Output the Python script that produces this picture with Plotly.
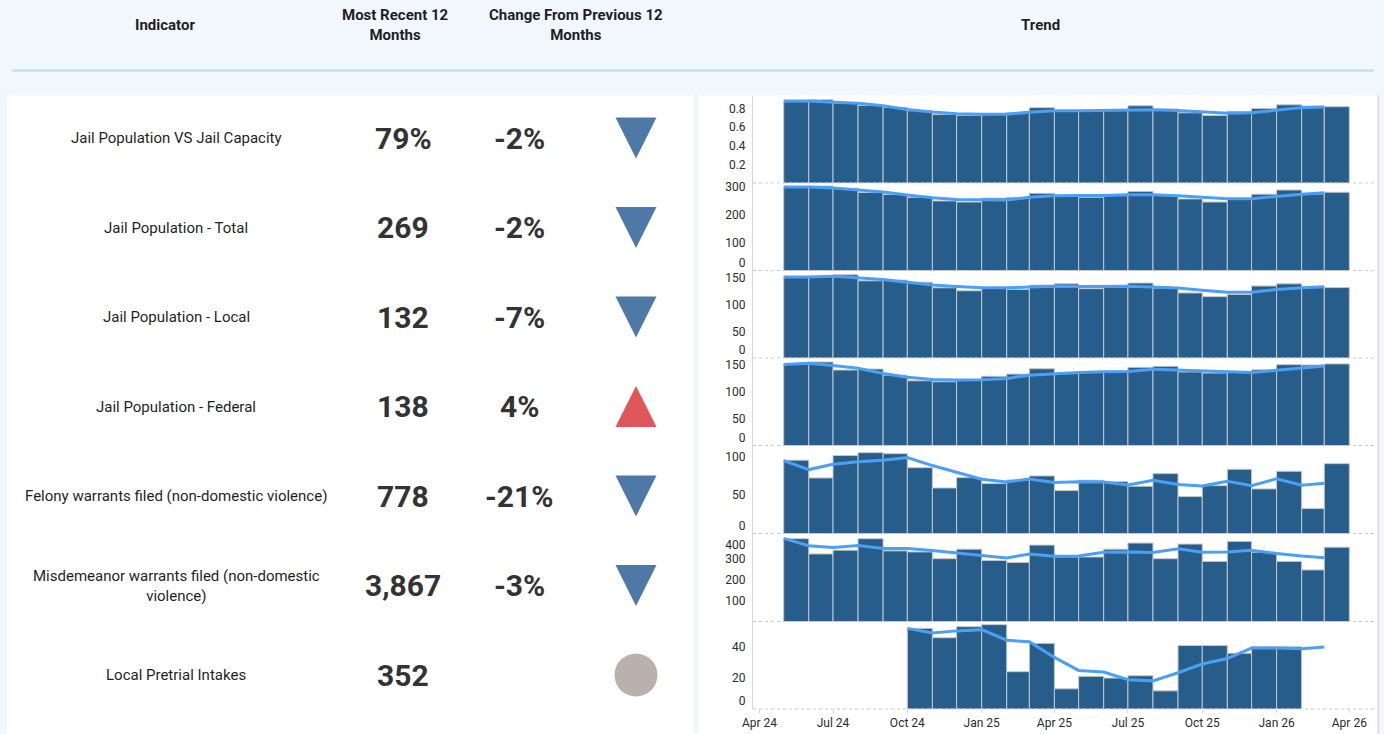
import plotly.graph_objects as go
import pandas as pd

# ---------------- data ----------------
months = ["2024-05-01", "2024-06-01", "2024-07-01", "2024-08-01", "2024-09-01", "2024-10-01",
          "2024-11-01", "2024-12-01", "2025-01-01", "2025-02-01", "2025-03-01", "2025-04-01",
          "2025-05-01", "2025-06-01", "2025-07-01", "2025-08-01", "2025-09-01", "2025-10-01",
          "2025-11-01", "2025-12-01", "2026-01-01", "2026-02-01", "2026-03-01"]

capacity_bars = [0.874, 0.895, 0.856, 0.834, 0.813, 0.777, 0.737, 0.726, 0.74, 0.755, 0.81, 0.77,
                 0.77, 0.78, 0.83, 0.795, 0.755, 0.726, 0.77, 0.80, 0.84, 0.827, 0.82]
capacity_line = [0.88, 0.88, 0.867, 0.856, 0.83, 0.79, 0.762, 0.744, 0.74, 0.74, 0.76, 0.777,
                 0.777, 0.78, 0.787, 0.787, 0.78, 0.762, 0.75, 0.755, 0.784, 0.81, 0.816]

total_bars = [298, 302, 294, 279, 272, 262, 249, 245, 259, 262, 276, 265,
              262, 268, 283, 268, 256, 245, 256, 273, 288, 274, 280]
total_line = [299, 299, 295, 289, 281, 270, 260, 254, 252, 252, 262, 267,
              268, 268, 271, 271, 267, 262, 257, 257, 266, 273, 278]

local_bars = [151.6, 151, 156, 144.7, 146, 142, 131.6, 126, 131, 128.4, 136.6, 139,
              130, 133, 140.5, 131, 122, 115, 119, 135, 139, 132, 132]
local_line = [152, 151.6, 153, 150, 147, 142, 137, 134, 131.6, 131.6, 133, 134.7,
              134, 134, 134.7, 133, 131, 127, 123.4, 123.4, 128.4, 131.6, 133.4]

federal_bars = [152, 155.6, 140.6, 142.5, 131, 120.6, 118.8, 121, 129, 133, 143, 134,
                136, 138, 145.6, 147.5, 137, 135, 137.5, 141, 150.6, 150, 152]
federal_line = [151, 153, 149, 144, 134, 127, 123, 122, 122.5, 125, 131, 134,
                136, 137.5, 138, 142, 140.6, 139, 137.5, 136, 140, 144, 148]

felony_bars = [95, 72, 101, 104.7, 103.4, 85.3, 59, 72.4, 64.7, 69.4, 74.6, 55.6,
               69, 67.2, 61.2, 77.6, 47.8, 62, 83.2, 57.8, 80.6, 32.3, 90.5]
felony_line = [94.4, 82.8, 89.7, 93, 94.8, 98.3, 88, 79.3, 70.3, 66.8, 70.7, 66,
               67.2, 66.8, 63, 69, 63.4, 61.6, 67.7, 62, 71, 62.5, 65]

misd_bars = [393.5, 321, 338.7, 393.5, 335.5, 330.6, 298.4, 343.5, 290, 280.6, 363, 306.5,
             306.5, 343.5, 372.6, 298.4, 367.7, 285.5, 380.6, 329, 285.5, 245, 353]
misd_line = [395, 360, 351.6, 361, 346.8, 346.8, 337, 324, 313, 301.6, 321, 309.7,
             311, 329, 330.6, 327.4, 345, 329, 330.6, 338.7, 322.6, 311, 303]

pretrial_bars = [None, None, None, None, None, 51.6, 45.6, 52.7, 54, 23.9, 42, 12.9,
                 20.9, 19.8, 21.3, 11.6, 40.6, 40.6, 35.7, 39.8, 39.8, None, None]
pretrial_line = [None, None, None, None, None, 51.6, 48.6, 50, 50.8, 44, 43, 33,
                 24.7, 23.7, 18.7, 18, 23.2, 28.8, 32.3, 39, 39, 38.5, 39.6]

indicators = ["Jail Population VS Jail Capacity", "Jail Population - Total", "Jail Population - Local",
              "Jail Population - Federal", "Felony warrants filed (non-domestic violence)",
              "Misdemeanor warrants filed (non-domestic<br>violence)", "Local Pretrial Intakes"]
recent_values = ["79%", "269", "132", "138", "778", "3,867", "352"]
change_values = ["-2%", "-2%", "-7%", "4%", "-21%", "-3%", ""]
directions = ["down", "down", "down", "up", "down", "down", "none"]

header_labels = ["Indicator", "Most Recent 12<br>Months", "Change From Previous 12<br>Months", "Trend"]
x_tick_dates = ["2024-04-01", "2024-07-01", "2024-10-01", "2025-01-01", "2025-04-01",
                "2025-07-01", "2025-10-01", "2026-01-01", "2026-04-01"]

# (bars, line, y range, tick values, tick labels)
series = [
    (capacity_bars, capacity_line, [0, 0.935], [0.2, 0.4, 0.6, 0.8], ["0.2", "0.4", "0.6", "0.8"]),
    (total_bars, total_line, [0, 313], [0, 100, 200, 300], ["0<br> ", "100", "200", "300"]),
    (local_bars, local_line, [0, 164], [0, 50, 100, 150], ["0<br> ", "50", "100", "150"]),
    (federal_bars, federal_line, [0, 163], [0, 50, 100, 150], ["0<br> ", "50", "100", "150"]),
    (felony_bars, felony_line, [0, 114], [0, 50, 100], ["0<br> ", "50", "100"]),
    (misd_bars, misd_line, [0, 418], [100, 200, 300, 400], ["100", "200", "300", " <br>400"]),
    (pretrial_bars, pretrial_line, [0, 56], [0, 20, 40], ["0<br> ", "20", "40"]),
]

# ---------------- styling / geometry ----------------
W, H = 1384, 734
BG = "#f2f7fe"
BAR = "#275d8b"
LINE = "#4ba0f5"
TXT = "#2b2b2b"
FONT = "Roboto"


def px(x):
    return x / W


def py(y):
    return 1 - y / H


panel_edges = [96, 183, 270.5, 358, 445.5, 533.5, 621.5, 709]
plot_left, plot_right = 753, 1376

month_ts = pd.to_datetime(months)
bar_widths = [d.days_in_month * 86400000 for d in month_ts]

fig = go.Figure()
layout = dict(
    width=W, height=H, margin=dict(l=0, r=0, t=0, b=0, pad=0, autoexpand=False),
    paper_bgcolor=BG, plot_bgcolor="rgba(0,0,0,0)",
    showlegend=False, font=dict(family=FONT, color=TXT),
)

for i, (bars, line, rng, ticks, ticktext) in enumerate(series):
    n = i + 1
    yname = "y" if n == 1 else f"y{n}"
    fig.add_trace(go.Bar(
        x=months, y=bars, width=bar_widths, offset=0,
        marker=dict(color=BAR, line=dict(color="#c6c6c6", width=1)),
        xaxis="x", yaxis=yname, hoverinfo="skip"))
    fig.add_trace(go.Scatter(
        x=months, y=line, mode="lines", line=dict(color=LINE, width=3),
        xaxis="x", yaxis=yname, connectgaps=False, hoverinfo="skip"))
    key = "yaxis" if n == 1 else f"yaxis{n}"
    layout[key] = dict(
        domain=[py(panel_edges[i + 1]), py(panel_edges[i])],
        range=rng, tickvals=ticks, ticktext=ticktext, anchor="x", automargin=False,
        showgrid=False, zeroline=False, showline=True, linecolor="#d6d6d6", linewidth=1,
        ticks="outside", ticklen=4, tickcolor="rgba(0,0,0,0)",
        tickfont=dict(family=FONT, size=12, color=TXT), fixedrange=True,
    )

layout["xaxis"] = dict(
    type="date", domain=[px(plot_left), px(plot_right)], anchor="y7", automargin=False,
    range=["2024-03-24", "2026-05-04"], tickvals=x_tick_dates, tickformat="%b %y",
    showgrid=False, zeroline=False, showline=False,
    ticks="outside", ticklen=3, tickcolor="#d6d6d6",
    tickfont=dict(family=FONT, size=12, color=TXT), fixedrange=True,
)
layout["barmode"] = "overlay"

shapes = []
# white panels
shapes.append(dict(type="rect", xref="paper", yref="paper", x0=px(7), x1=px(694), y0=py(734), y1=py(95),
                   fillcolor="white", line=dict(width=0), layer="below"))
shapes.append(dict(type="rect", xref="paper", yref="paper", x0=px(698), x1=px(1377), y0=py(734), y1=py(95),
                   fillcolor="white", line=dict(width=0), layer="below"))
shapes.append(dict(type="rect", xref="paper", yref="paper", x0=px(1377), x1=px(1379.5), y0=py(734), y1=py(95),
                   fillcolor="#e4e4e4", line=dict(width=0), layer="below"))
# header rule
shapes.append(dict(type="line", xref="paper", yref="paper", x0=px(12), x1=px(1374), y0=py(70.5), y1=py(70.5),
                   line=dict(color="#b8dbfa", width=2)))
# dotted panel separators
for i in range(len(series)):
    shapes.append(dict(type="line", xref="paper", yref="paper", x0=px(plot_left), x1=px(plot_right),
                       y0=py(panel_edges[i + 1]), y1=py(panel_edges[i + 1]),
                       line=dict(color="#c8c8c8", width=1, dash="dot"), layer="above"))

annotations = []


def ann(x, y, text, size, bold=False, color=TXT):
    annotations.append(dict(
        x=px(x), y=py(y), xref="paper", yref="paper", text=f"<b>{text}</b>" if bold else text,
        showarrow=False, xanchor="center", yanchor="middle",
        font=dict(family=FONT, size=size, color=color), align="center"))


header_x = [165, 395, 576, 1040]
for hx, label in zip(header_x, header_labels):
    ann(hx, 25, label, 15, bold=True, color="#1f1f1f")

row_y = [138, 227.5, 317, 406.5, 496, 585.5, 675]
icon_x = 636
for ry, label, rec, chg, d in zip(row_y, indicators, recent_values, change_values, directions):
    ann(176, ry, label, 15, color="#1f1f1f")
    ann(403, ry, rec, 30, bold=True, color="#333333")
    if chg:
        ann(519, ry, chg, 30, bold=True, color="#333333")
    hw, hh = 20.5, 20.5
    if d == "down":
        path = (f"M {px(icon_x - hw)} {py(ry - hh)} L {px(icon_x + hw)} {py(ry - hh)} "
                f"L {px(icon_x)} {py(ry + hh)} Z")
        shapes.append(dict(type="path", xref="paper", yref="paper", path=path,
                           fillcolor="#4e79a7", line=dict(width=0)))
    elif d == "up":
        path = (f"M {px(icon_x - hw)} {py(ry + hh)} L {px(icon_x + hw)} {py(ry + hh)} "
                f"L {px(icon_x)} {py(ry - hh)} Z")
        shapes.append(dict(type="path", xref="paper", yref="paper", path=path,
                           fillcolor="#e15759", line=dict(width=0)))
    else:
        shapes.append(dict(type="circle", xref="paper", yref="paper",
                           x0=px(icon_x - 21.5), x1=px(icon_x + 21.5), y0=py(ry + 21.5), y1=py(ry - 21.5),
                           fillcolor="#bab0ac", line=dict(width=0)))

layout["shapes"] = shapes
layout["annotations"] = annotations
fig.update_layout(**layout)

fig.write_html("out.html", config={"displayModeBar": False},
               post_script="document.body.style.margin='0';document.body.style.overflow='hidden';")
